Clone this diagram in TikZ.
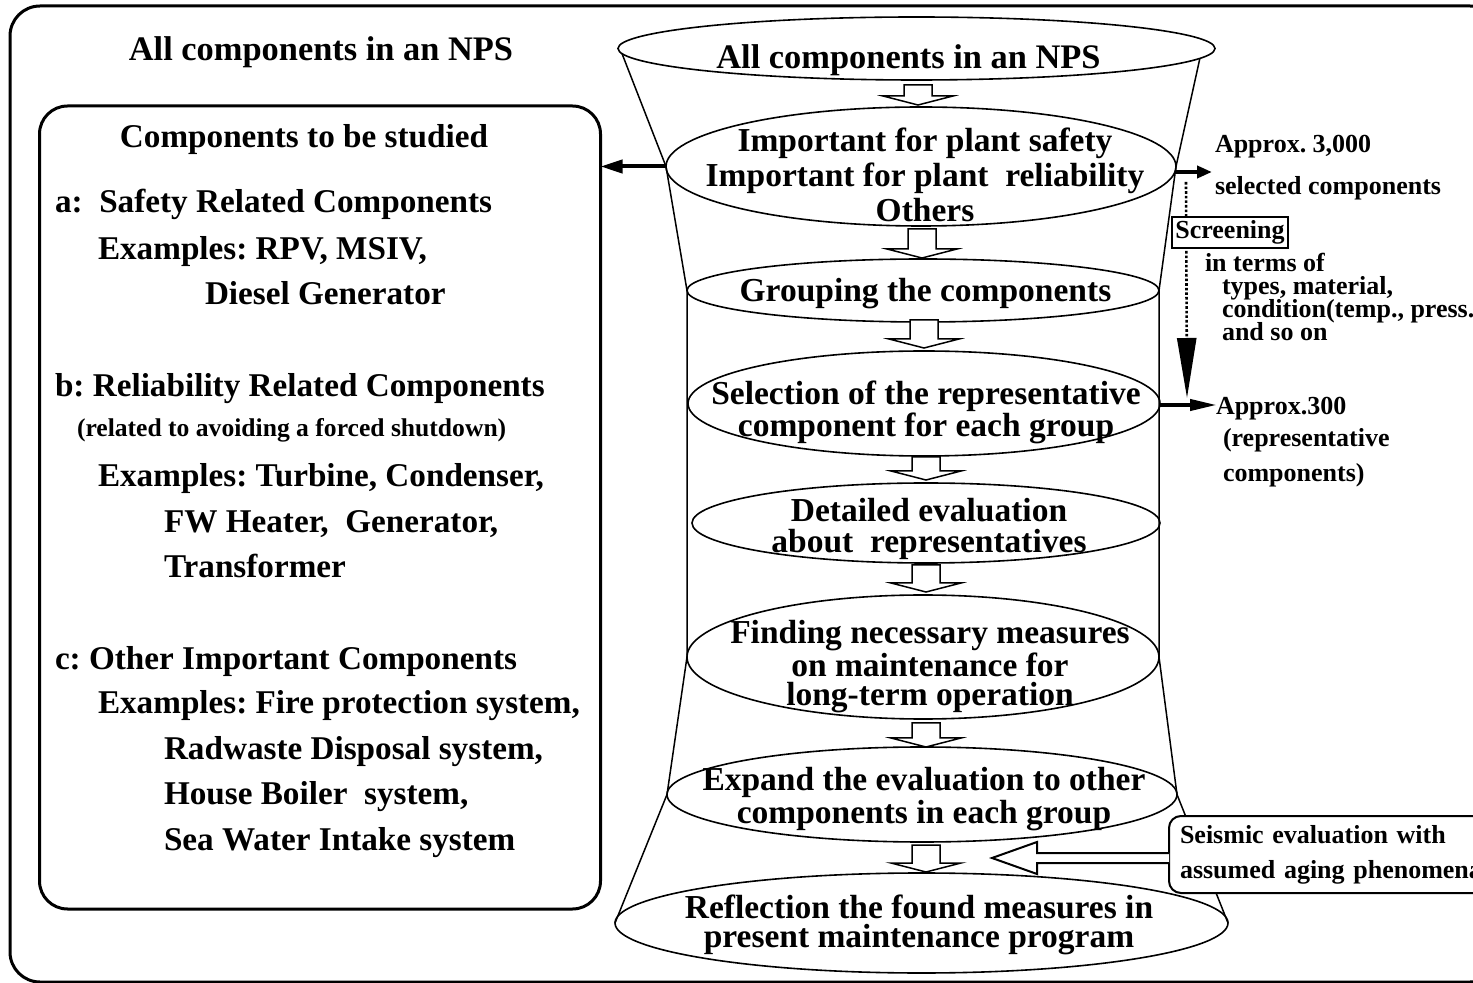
\documentclass[tikz,border=0pt]{standalone}
\usepackage{fontspec}
\setmainfont{Liberation Serif}
\usetikzlibrary{arrows.meta,shapes.geometric}
\frenchspacing

\tikzset{
  % hollow block arrow pointing down, #1 = total length
  pics/sinkarrow/.style={code={
    \draw[line width=0.75pt, fill=white]
      (-14,0) -- (-14,#1-9) -- (-35,#1-9) -- (0,#1) -- (35,#1-9) -- (14,#1-9) -- (14,0) -- cycle;}},
  frame/.style={line width=1.5pt, rounded corners=15pt},
  panel/.style={draw, rectangle, line width=1.5pt, rounded corners=14pt},
  stage/.style={draw, ellipse, line width=0.8pt},
  funnel/.style={line width=0.75pt, line join=round},
  % multi-line labels are placed by the baseline of their last line
  stagetext/.style={font=\fontsize{16.75}{#1}\selectfont\bfseries, align=center, anchor=base},
  stagetext/.default=17.5,
  listtext/.style={font=\fontsize{16.6}{20}\selectfont\bfseries, anchor=base west},
  headtext/.style={font=\fontsize{17.2}{20}\selectfont\bfseries, anchor=base},
  notetext/.style={font=\fontsize{13}{13}\selectfont\bfseries, anchor=base west},
  fatarrow/.style={line width=2pt},
  dotline/.style={line width=1.3pt, densely dotted},
}

\begin{document}
\begin{tikzpicture}[x=0.5pt, y=-0.5pt, every node/.style={inner sep=0pt, outer sep=0pt}]
\useasboundingbox (0,0) rectangle (1473,983);
\clip (0,0) rectangle (1473,983);
\fill[white] (0,0) rectangle (1473,983);

% outer frame
\draw[frame] (10,6) rectangle (1500,982);
\node[headtext] (title) at (321,61) {All components in an NPS};

% left panel
\node[panel, minimum width=280.5pt, minimum height=401.5pt] (box) at (320,507.5) {};
\node[listtext, anchor=base] (l0) at (304,148) {Components to be studied};
\node[listtext] (l1) at (55,213) {a:\ \ Safety Related Components};
\node[listtext] (l2) at (98,260) {Examples: RPV, MSIV,};
\node[listtext] (l3) at (205,305) {Diesel Generator};
\node[listtext] (l4) at (55,397) {b: Reliability Related Components};
\node[listtext, font=\fontsize{12.8}{14}\selectfont\bfseries] (l5) at (77,437) {(related to avoiding a forced shutdown)};
\node[listtext] (l6) at (98,487) {Examples: Turbine, Condenser,};
\node[listtext] (l7) at (164,533) {FW Heater,\ \ Generator,};
\node[listtext] (l8) at (164,578) {Transformer};
\node[listtext] (l9) at (55,670) {c: Other Important Components};
\node[listtext] (l10) at (98,713) {Examples: Fire protection system,};
\node[listtext] (l11) at (164,760) {Radwaste Disposal system,};
\node[listtext] (l12) at (164,805) {House Boiler\ \ system,};
\node[listtext] (l13) at (164,850) {Sea Water Intake system};

% stages of the funnel
\node[stage, minimum width=298.5pt, minimum height=31.5pt] (e1) at (916.5,48.5) {};
\node[stage, minimum width=255pt, minimum height=59.5pt] (e2) at (921,166.5) {};
\node[stage, minimum width=236pt, minimum height=31.5pt] (e3) at (923,290.5) {};
\node[stage, minimum width=236pt, minimum height=52.5pt] (e4) at (924,403.5) {};
\node[stage, minimum width=234pt, minimum height=40pt] (e5) at (926,523) {};
\node[stage, minimum width=236pt, minimum height=62pt] (e6) at (923,657) {};
\node[stage, minimum width=255pt, minimum height=47.5pt] (e7) at (922,794.5) {};
\node[stage, minimum width=306.5pt, minimum height=50pt] (e8) at (921.5,923) {};

% funnel outline
\draw[funnel] (e1.181) -- (e2.west) -- (e3.west) -- (e6.west) -- (e7.west) -- (e8.west);
\draw[funnel] (e1.358.5) -- (e2.east) -- (e3.east) -- (e6.east) -- (e7.east) -- (e8.east);

\node[headtext] (t1) at (908.5,69) {All components in an NPS};
\node[stagetext] (t2) at (925,222) {Important for plant safety\\Important for plant\ \ reliability\\Others};
\node[stagetext] (t3) at (925.5,302) {Grouping the components};
\node[stagetext=16] (t4) at (926,437) {Selection of the representative\\component for each group};
\node[stagetext=15.5] (t5) at (929,553) {Detailed evaluation\\about\ \ representatives};
\node[stagetext=14.25] (t6) at (930,705) {Finding necessary measures\\on maintenance for\\long-term operation};
\node[stagetext=14] (t7) at (924,823) {Expand the evaluation to other\\components in each group};
\node[stagetext=14.5] (t8) at (919,947) {Reflection the found measures in\\present maintenance program};

% flow arrows between stages
\pic (a1) at (918,85) {sinkarrow=20};
\pic (a2) at (922,229) {sinkarrow=29};
\pic (a3) at (924,320) {sinkarrow=28};
\pic (a4) at (926,457) {sinkarrow=23};
\pic (a5) at (926,565) {sinkarrow=27};
\pic (a6) at (926,723) {sinkarrow=24};
\pic (a7) at (926,845) {sinkarrow=27};

% link to the panel
\draw[fatarrow, -{Triangle[length=11pt,width=6.5pt]}] (e2.west) -- (e2.west -| box.east);

% screening annotations
\coordinate (sel) at (1212,172);
\coordinate (rep) at (1217,405);
\coordinate (dtop) at (1186,182);
\coordinate (dtip) at (1187,398);
\draw[fatarrow, -{Triangle[length=7.5pt,width=6pt]}] (e2.east |- sel) -- (sel);
\draw[fatarrow, -{Triangle[length=13.5pt,width=5.5pt]}] (e4.east |- rep) -- (rep);
\draw[dotline, -{Triangle[length=30pt,width=9.5pt]}] (dtop) -- (dtip);
\node[draw, fill=white, line width=1pt, minimum height=15.5pt, inner xsep=1.5pt,
      font=\fontsize{13}{13}\selectfont\bfseries] (scr) at (1230,232.5) {Screening};

\node[notetext] (n1) at (1215,153) {Approx. 3,000};
\node[notetext] (n2) at (1215,195) {selected components};
\node[notetext] (n3) at (1205,272) {in terms of};
\node[notetext] (n4) at (1222,295) {types, material,};
\node[notetext] (n5) at (1222,318) {condition(temp., press.)};
\node[notetext] (n6) at (1222,341) {and so on};
\node[notetext] (n7) at (1216,415) {Approx.300};
\node[notetext] (n8) at (1223,447) {(representative};
\node[notetext] (n9) at (1223,482) {components)};

% seismic input
\node[draw, fill=white, line width=1pt, rounded corners=6pt, anchor=north west,
      minimum width=165.5pt, minimum height=38.5pt, text width=154.5pt, inner xsep=5.5pt,
      align=left, font=\fontsize{13}{17.5}\selectfont\bfseries] (seis) at (1169,816)
      {Seismic evaluation with\\assumed aging phenomena};
\draw[line width=1pt, fill=white, line join=miter]
  ([shift={(0,-1.5)}]seis.west) -- ++(-132,0) -- ++(0,-11) -- ++(-45,16)
  -- ++(45,16) -- ++(0,-11) -- ++(132,0);
\end{tikzpicture}
\end{document}
